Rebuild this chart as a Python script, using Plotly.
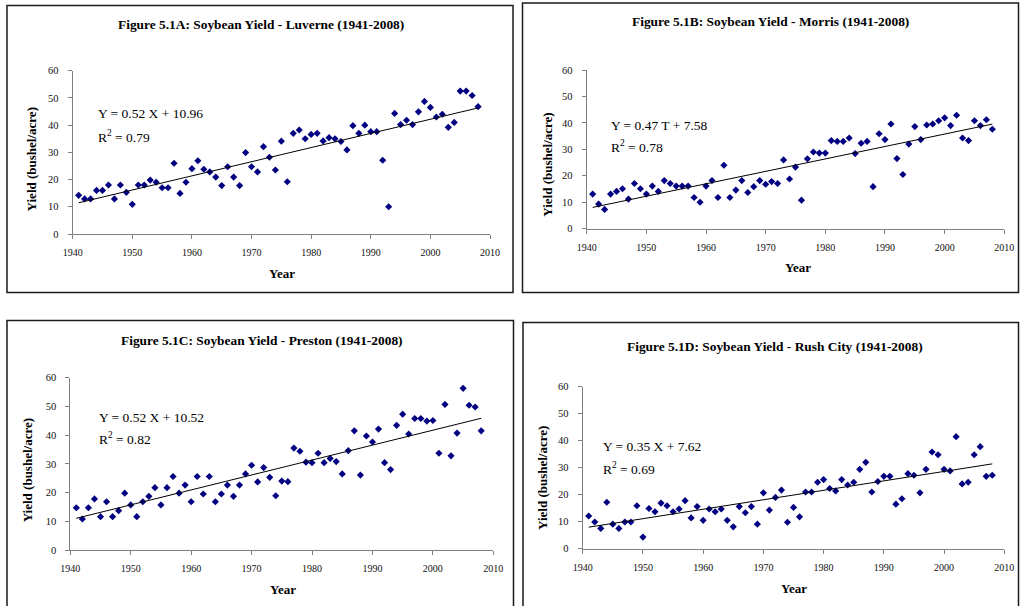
import plotly.graph_objects as go

# ---------------- data ----------------
years = list(range(1941, 2009))

luverne = [14.2, 12.9, 12.9, 16.0, 16.0, 18.0, 12.9, 18.0, 15.3, 10.9,
           18.0, 18.0, 19.8, 19.0, 17.0, 17.0, 26.0, 14.9, 19.0, 24.0,
           26.9, 23.8, 22.8, 20.9, 17.8, 24.7, 20.9, 17.8, 29.9, 24.7,
           22.8, 32.1, 28.2, 23.5, 34.1, 19.2, 37.0, 38.2, 35.0, 36.6,
           37.0, 34.2, 35.4, 35.0, 34.0, 30.9, 39.8, 37.0, 40.0, 37.6,
           37.6, 27.1, 10.0, 44.3, 40.2, 41.8, 40.2, 44.9, 48.7, 46.5,
           43.0, 44.0, 39.2, 41.0, 52.5, 52.5, 50.9, 46.8]

morris = [13.1, 9.3, 7.3, 13.1, 14.1, 15.1, 11.2, 17.1, 15.1, 13.1,
          16.1, 14.1, 18.2, 17.1, 16.1, 16.1, 16.1, 11.8, 10.0, 16.1,
          18.2, 11.8, 24.0, 11.8, 14.6, 18.2, 13.7, 15.9, 18.2, 16.8,
          17.8, 17.1, 26.0, 18.8, 23.3, 10.8, 26.4, 29.0, 28.6, 28.6,
          33.3, 33.0, 33.0, 34.3, 28.4, 32.3, 33.0, 15.9, 35.9, 33.7,
          39.6, 26.5, 20.5, 32.0, 38.6, 33.7, 39.2, 39.6, 40.8, 41.9,
          39.0, 42.9, 34.3, 33.3, 40.8, 39.0, 41.2, 37.6]

preston = [14.7, 10.8, 14.7, 17.8, 11.6, 16.8, 11.6, 13.7, 19.8, 15.7,
           11.6, 16.8, 18.7, 21.7, 15.7, 21.7, 25.6, 19.8, 22.6, 16.8,
           25.6, 19.5, 25.6, 16.8, 19.5, 22.6, 18.7, 22.6, 26.5, 29.5,
           23.7, 28.7, 25.3, 18.9, 24.0, 23.8, 35.5, 34.4, 30.6, 30.4,
           33.7, 30.4, 31.9, 30.8, 26.5, 34.6, 41.5, 26.1, 39.7, 37.6,
           42.1, 30.4, 28.0, 43.4, 47.3, 40.4, 45.8, 45.8, 44.9, 45.1,
           33.7, 50.7, 32.8, 40.7, 56.3, 50.4, 49.8, 41.5]

rush_city = [12.1, 9.9, 7.5, 17.2, 9.1, 7.5, 9.9, 9.9, 15.9, 4.3,
             14.9, 13.7, 16.9, 15.9, 13.7, 14.7, 17.8, 11.4, 15.6, 10.5,
             14.7, 13.7, 14.7, 10.5, 8.1, 15.6, 13.3, 15.6, 9.1, 20.7,
             14.3, 19.0, 21.7, 9.8, 15.3, 11.8, 21.0, 21.0, 24.6, 25.6,
             22.3, 21.4, 25.6, 23.6, 24.6, 29.4, 32.0, 21.0, 24.9, 26.8,
             26.8, 16.5, 18.5, 27.8, 27.2, 20.7, 29.4, 35.8, 34.8, 29.4,
             28.8, 41.5, 24.0, 24.6, 34.8, 37.8, 26.8, 27.2]

titles = ["Figure 5.1A: Soybean Yield - Luverne (1941-2008)",
          "Figure 5.1B: Soybean Yield - Morris (1941-2008)",
          "Figure 5.1C: Soybean Yield - Preston (1941-2008)",
          "Figure 5.1D: Soybean Yield - Rush City (1941-2008)"]
equations = ["Y = 0.52 X + 10.96", "Y = 0.47 T + 7.58",
             "Y = 0.52 X + 10.52", "Y = 0.35 X + 7.62"]
r_squared = ["0.79", "0.78", "0.82", "0.69"]
slopes = [0.52, 0.47, 0.52, 0.35]
intercepts = [10.96, 7.58, 10.52, 7.62]
base_year = 1940
x_ticks = [1940, 1950, 1960, 1970, 1980, 1990, 2000, 2010]
y_ticks = [0, 10, 20, 30, 40, 50, 60]

series = [luverne, morris, preston, rush_city]

# ---------------- layout geometry (pixels) ----------------
W, H = 1021, 606
def px(x):
    return x / W
def py(y):
    return 1 - y / H

# plot areas: (x_left, x_right, y_top, y_bottom) in pixels
plot_px = [(72.7, 490.0, 70.7, 234.0),
           (586.7, 1004.3, 70.0, 228.7),
           (70.3, 493.3, 377.7, 550.0),
           (582.7, 1004.3, 386.7, 548.7)]
boxes = [(7, 5.5, 513, 292.5),
         (522.5, 3, 1018.5, 292.5),
         (7, 320.5, 513.5, 620),
         (523, 322.5, 1018.5, 620)]
title_pos = [(261, 24.7), (770, 22), (261.5, 340.7), (775, 346.7)]
eq_pos = [(96, 113.5, 136), (609, 126, 146.7), (96.7, 417.7, 438.3), (601, 446.7, 468.3)]
ytitle_pos = [(31.7, 159.7), (546.7, 165), (28.3, 470), (542.7, 478.3)]
xtitle_pos = [(281.7, 273.3), (797.7, 267.3), (282.7, 589.3), (793.7, 588.3)]

SERIF = "Liberation Serif, Times New Roman, serif"

fig = go.Figure()
annotations = []
shapes = []
layout_axes = {}

for i in range(4):
    n = "" if i == 0 else str(i + 1)
    xa, ya = "x" + n, "y" + n
    fig.add_trace(go.Scatter(
        x=years, y=series[i], mode="markers", xaxis=xa, yaxis=ya,
        marker=dict(symbol="diamond", size=5.5, color="#000080"),
        showlegend=False, cliponaxis=False))
    trend_x = [years[0], years[-1]]
    trend_y = [intercepts[i] + slopes[i] * (yy - base_year) for yy in trend_x]
    fig.add_trace(go.Scatter(
        x=trend_x, y=trend_y, mode="lines", xaxis=xa, yaxis=ya,
        line=dict(color="black", width=1), showlegend=False))

    xl, xr, yt, yb = plot_px[i]
    layout_axes["xaxis" + n] = dict(
        domain=[px(xl), px(xr)], range=[1940, 2010], tickvals=x_ticks,
        ticks="outside", ticklen=4, tickcolor="#808080", showline=True,
        linecolor="#808080", linewidth=1, showgrid=False, zeroline=False,
        tickfont=dict(family=SERIF, size=10, color="#111"),
        ticklabelstandoff=5,
        anchor=ya, fixedrange=True, automargin=False)
    layout_axes["yaxis" + n] = dict(
        domain=[py(yb), py(yt)], range=[0, 60], tickvals=y_ticks,
        ticks="outside", ticklen=4, tickcolor="#808080", showline=True,
        linecolor="#808080", linewidth=1, showgrid=False, zeroline=False,
        tickfont=dict(family=SERIF, size=10.5, color="#111"),
        ticklabelstandoff=7,
        anchor=xa, fixedrange=True, automargin=False)

    bx0, by0, bx1, by1 = boxes[i]
    shapes.append(dict(type="rect", xref="paper", yref="paper",
                       x0=px(bx0), y0=py(by1), x1=px(bx1), y1=py(by0),
                       line=dict(color="#1a1a1a", width=1.5)))

    tx, ty = title_pos[i]
    annotations.append(dict(text="<b>" + titles[i] + "</b>", x=px(tx), y=py(ty),
                            xref="paper", yref="paper", showarrow=False,
                            xanchor="center", yanchor="middle",
                            font=dict(family=SERIF, size=13.4, color="black")))
    ex, ey1, ey2 = eq_pos[i]
    annotations.append(dict(text=equations[i], x=px(ex), y=py(ey1),
                            xref="paper", yref="paper", showarrow=False,
                            xanchor="left", yanchor="middle",
                            font=dict(family=SERIF, size=13.5, color="black")))
    annotations.append(dict(text="R<sup>2</sup> = " + r_squared[i], x=px(ex), y=py(ey2),
                            xref="paper", yref="paper", showarrow=False,
                            xanchor="left", yanchor="middle",
                            font=dict(family=SERIF, size=13.5, color="black")))
    yx, yy_ = ytitle_pos[i]
    annotations.append(dict(text="<b>Yield (bushel/acre)</b>", x=px(yx), y=py(yy_),
                            xref="paper", yref="paper", showarrow=False,
                            textangle=-90, xanchor="center", yanchor="middle",
                            font=dict(family=SERIF, size=13, color="black")))
    xx, xy = xtitle_pos[i]
    annotations.append(dict(text="<b>Year</b>", x=px(xx), y=py(xy),
                            xref="paper", yref="paper", showarrow=False,
                            xanchor="center", yanchor="middle",
                            font=dict(family=SERIF, size=13, color="black")))

fig.update_layout(
    width=W, height=H, autosize=False,
    margin=dict(l=0, r=0, t=0, b=0, pad=0, autoexpand=False),
    paper_bgcolor="white", plot_bgcolor="white",
    annotations=annotations, shapes=shapes,
    **layout_axes)

fig.write_html("out.html")
